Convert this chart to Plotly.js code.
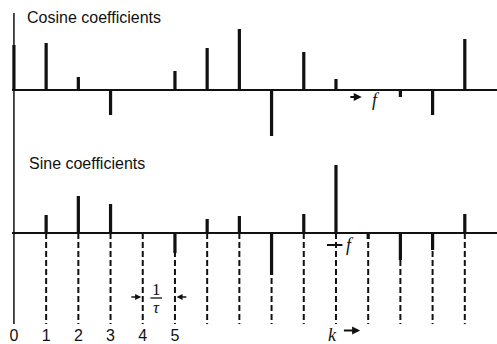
<!DOCTYPE html>
<html>
<head>
<meta charset="utf-8">
<script src="https://cdn.plot.ly/plotly-3.0.1.min.js"></script>
<style>html,body{margin:0;padding:0;background:#fff;}#chart{width:497px;height:344px;}</style>
</head>
<body>
<div id="chart"></div>
<script>
// Harmonic index k
var ks = [0, 1, 2, 3, 4, 5, 6, 7, 8, 9, 10, 11, 12, 13, 14];
// Cosine coefficients (arbitrary units)
var cosineCoef = [45, 47, 13, -25, 0, 19, 42, 61, -46, 38, 11, 0, -7, -25, 51];
// Sine coefficients
var sineCoef = [0, 18, 37, 29, 0, -20, 14, 17, -42, 19, 68, -6, -27, -17, 19];
// Tick labels on the k axis
var tickVals = [0, 1, 2, 3, 4, 5];
var tickText = ['0', '1', '2', '3', '4', '5'];

var sans = 'Liberation Sans Narrow, Arial Narrow, sans-serif';
var serif = 'Liberation Serif, Times New Roman, serif';

var traces = [
  {type: 'bar', x: ks, y: cosineCoef, xaxis: 'x', yaxis: 'y', width: 0.1,
   marker: {color: '#111', line: {width: 0}}, hoverinfo: 'none'},
  {type: 'bar', x: ks, y: sineCoef, xaxis: 'x', yaxis: 'y2', width: 0.1,
   marker: {color: '#111', line: {width: 0}}, hoverinfo: 'none'}
];

var shapes = [];
// vertical left axis line
shapes.push({type: 'line', xref: 'x', yref: 'paper', x0: 0, x1: 0, y0: 0, y1: 0.96,
  line: {color: '#111', width: 1.5}});
// dashed guides below sine baseline for k >= 1
ks.forEach(function (k) {
  if (k === 0) return;
  shapes.push({type: 'line', xref: 'x', yref: 'y2', x0: k, x1: k, y0: 0, y1: -91,
    layer: 'below', line: {color: '#111', width: 2, dash: '6px,3px'}});
});
// small tick at f on the sine row
shapes.push({type: 'line', xref: 'x', yref: 'y2', x0: 9.72, x1: 10.2, y0: -12, y1: -12,
  line: {color: '#111', width: 2}});
// fraction bar of 1/tau
shapes.push({type: 'line', xref: 'x', yref: 'y2', x0: 4.24, x1: 4.6, y0: -65, y1: -65,
  line: {color: '#111', width: 1.3}});

var annotations = [
  {xref: 'x', yref: 'y', x: 0.34, y: 73, xanchor: 'left', yanchor: 'middle', showarrow: false,
   text: 'Cosine coefficients', font: {family: sans, size: 16, color: '#111'}},
  {xref: 'x', yref: 'y2', x: 0.40, y: 70, xanchor: 'left', yanchor: 'middle', showarrow: false,
   text: 'Sine coefficients', font: {family: sans, size: 16, color: '#111'}},
  // arrow -> f on cosine row
  {xref: 'x', yref: 'y', axref: 'x', ayref: 'y', x: 10.8, y: -7, ax: 10.4, ay: -7,
   showarrow: true, arrowhead: 2, arrowsize: 0.8, arrowwidth: 2, arrowcolor: '#111', text: ''},
  {xref: 'x', yref: 'y', x: 11.25, y: -10, showarrow: false, text: '<i>f</i>',
   font: {family: serif, size: 18, color: '#111'}},
  {xref: 'x', yref: 'y2', x: 10.45, y: -12, showarrow: false, text: '<i>f</i>',
   font: {family: serif, size: 18, color: '#111'}},
  // 1/tau
  {xref: 'x', yref: 'y2', x: 4.42, y: -56, showarrow: false, text: '1',
   font: {family: serif, size: 17, color: '#111'}},
  {xref: 'x', yref: 'y2', x: 4.42, y: -74, showarrow: false, text: '<i>τ</i>',
   font: {family: serif, size: 17, color: '#111'}},
  {xref: 'x', yref: 'y2', axref: 'x', ayref: 'y2', x: 3.95, y: -64, ax: 3.6, ay: -64,
   showarrow: true, arrowhead: 2, arrowsize: 0.8, arrowwidth: 1.5, arrowcolor: '#111', text: ''},
  {xref: 'x', yref: 'y2', axref: 'x', ayref: 'y2', x: 5.05, y: -64, ax: 5.4, ay: -64,
   showarrow: true, arrowhead: 2, arrowsize: 0.8, arrowwidth: 1.5, arrowcolor: '#111', text: ''},
  // k ->
  {xref: 'x', yref: 'paper', x: 9.9, y: -0.035, yanchor: 'middle', showarrow: false, text: '<i>k</i>',
   font: {family: serif, size: 18, color: '#111'}},
  {xref: 'x', yref: 'paper', axref: 'x', ayref: 'paper', x: 10.75, y: -0.02, ax: 10.2, ay: -0.02,
   showarrow: true, arrowhead: 2, arrowsize: 0.8, arrowwidth: 2, arrowcolor: '#111', text: ''}
];

var layout = {
  width: 497, height: 344,
  margin: {l: 12, r: 0, t: 0, b: 20},
  paper_bgcolor: '#fff', plot_bgcolor: '#fff',
  showlegend: false, barmode: 'overlay',
  xaxis: {range: [-0.06, 15.0], anchor: 'y2', tickvals: tickVals, ticktext: tickText,
    showgrid: false, zeroline: false, showline: false, ticks: '',
    tickfont: {family: sans, size: 16, color: '#111'}, fixedrange: true},
  yaxis: {domain: [0.537, 1], range: [-60, 90], anchor: 'x', showgrid: false,
    zeroline: true, zerolinecolor: '#111', zerolinewidth: 2, showticklabels: false, ticks: '',
    showline: false},
  yaxis2: {domain: [0, 0.537], range: [-91, 83], anchor: 'x', showgrid: false,
    zeroline: true, zerolinecolor: '#111', zerolinewidth: 2, showticklabels: false, ticks: '',
    showline: false},
  shapes: shapes,
  annotations: annotations
};

Plotly.newPlot('chart', traces, layout, {staticPlot: true, displayModeBar: false});
</script>
</body>
</html>
